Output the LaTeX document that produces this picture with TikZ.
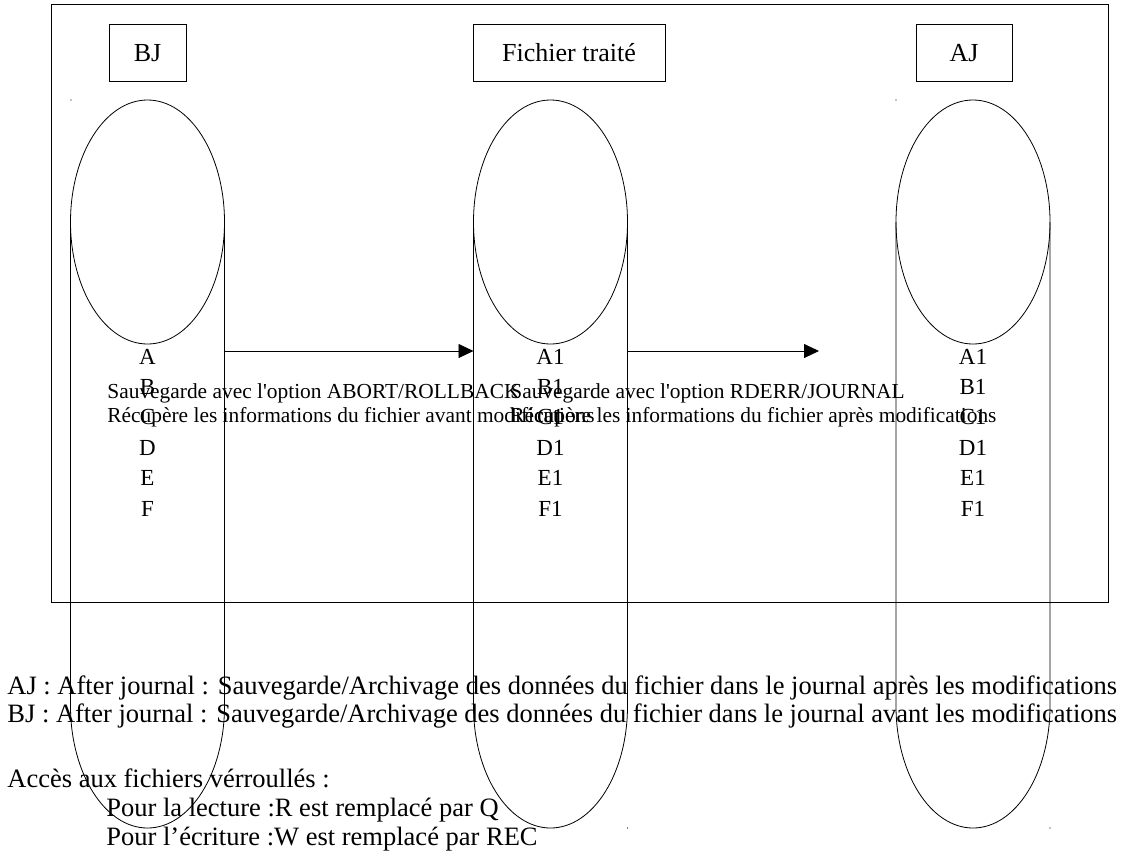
\documentclass[tikz,border=0pt]{standalone}
\usepackage{fontspec}
\setmainfont{Liberation Serif}
\newfontfamily\plainserif{Liberation Serif}
\usetikzlibrary{arrows.meta}

\begin{document}
\begin{tikzpicture}[x=1pt,y=-1pt,line width=0.8pt,
    every node/.style={inner sep=0pt},
    headbox/.style={draw,minimum height=57pt,text height=17pt,text depth=0pt,font=\plainserif\fontsize{26}{29}\selectfont},
    letter/.style={anchor=base,font=\plainserif\fontsize{23}{29}\selectfont},
    note/.style={anchor=base west,font=\plainserif\fontsize{21.4}{24}\selectfont},
    legend/.style={anchor=base west,font=\plainserif\fontsize{26.5}{28}\selectfont},
    flow/.style={-{Triangle[length=15pt,width=14pt]}}]
    \useasboundingbox (0,0) rectangle (1127,854);
    \draw (51.5,4) rectangle (1108,602);

    \node[headbox,minimum width=77pt] (bj) at (147.5,52.5) {BJ};
    \node[headbox,minimum width=192pt] (ft) at (569,52.5) {Fichier traité};
    \node[headbox,minimum width=96pt] (aj) at (964,52.5) {AJ};

    \foreach \cx in {147.5,550.5,973}{
        \draw (\cx,222) ellipse [x radius=77,y radius=122];
        \draw (\cx-77,222) -- (\cx-77,706) arc [start angle=180,end angle=0,x radius=77,y radius=122] -- (\cx+77,222);
    }

    \foreach \t [count=\i] in {A,B,C,D,E,F}{
        \node[letter] (bj\i) at (147.5,{364+30.4*(\i-1)}) {\t};
        \node[letter] (ft\i) at (550.5,{364+30.4*(\i-1)}) {\t1};
        \node[letter] (aj\i) at (973,{364+30.4*(\i-1)}) {\t1};
    }

    \coordinate (bjside) at (224.5,351);
    \coordinate (ftleft) at (473.5,351);
    \coordinate (ftright) at (627.5,351);
    \coordinate (gap) at (819,351);
    \draw[flow] (bjside) -- (ftleft);
    \draw[flow] (ftright) -- (gap);

    \node[note] (abort) at (107,398) {Sauvegarde avec l'option ABORT/ROLLBACK};
    \node[note] (avant) at (107,422) {Récupère les informations du fichier avant modifications};
    \node[note] (rderr) at (510,398) {Sauvegarde avec l'option RDERR/JOURNAL};
    \node[note] (apres) at (510,422) {Récupère les informations du fichier après modifications};

    \node[legend] (ajdef) at (7,694) {AJ : After journal : Sauvegarde/Archivage des données du fichier dans le journal après les modifications};
    \node[legend] (bjdef) at (7,722) {BJ : After journal : Sauvegarde/Archivage des données du fichier dans le journal avant les modifications};
    \node[legend] (acces) at (7,787) {Accès aux fichiers vérroullés :};
    \node[legend] (lecture) at (106,816) {Pour la lecture :R est remplacé par Q};
    \node[legend] (ecriture) at (106,845) {Pour l’écriture :W est remplacé par REC};

    \fill (71,100) circle (0.7);
    \fill (896,100) circle (0.7);
    \fill (627.5,828) circle (0.7);
    \fill (1050,828) circle (0.7);
\end{tikzpicture}
\end{document}
